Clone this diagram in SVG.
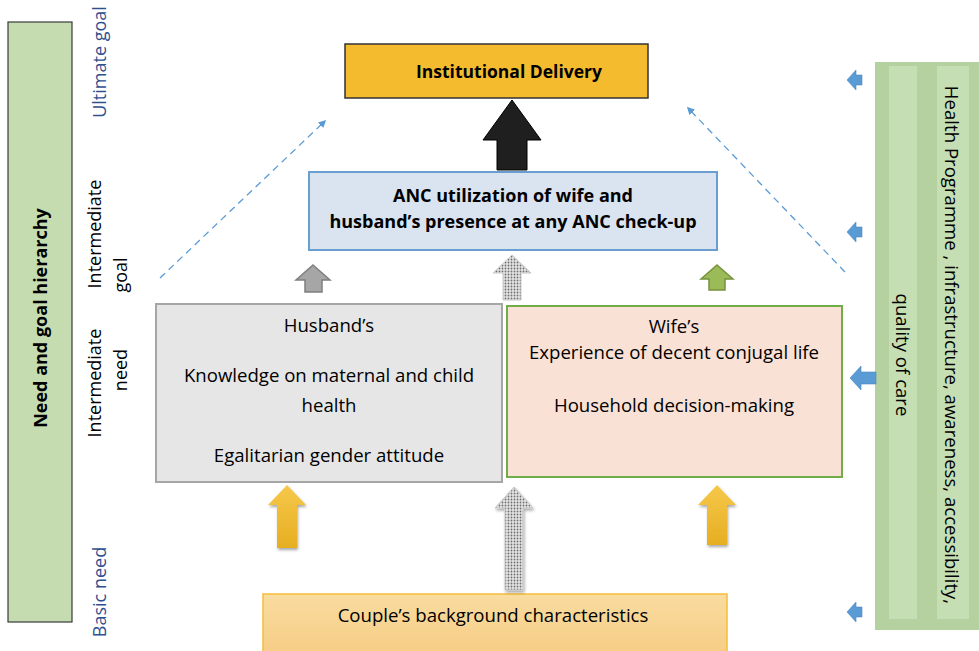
<svg xmlns="http://www.w3.org/2000/svg" width="979" height="651" viewBox="0 0 979 651">
  <defs>
    <style>
      text { font-family: "Open Sans", "Liberation Sans", Arial, sans-serif; fill: #000; }
      .lbl { font-size: 18.6px; }
      .lvl { font-size: 18px; }
      .blue { fill: #2F4F8F; }
      .bold { font-weight: bold; }
      .dash { stroke: #5B9BD5; stroke-width: 1.3; stroke-dasharray: 7 5; fill: none; }
      .side { fill: #5B9BD5; stroke: #4A86C0; stroke-width: 0.6; }
    </style>
    <pattern id="dots" width="3" height="3" patternUnits="userSpaceOnUse">
      <rect width="3" height="3" fill="#E4E4E4"/>
      <circle cx="1.5" cy="1.5" r="0.9" fill="#6E6E6E"/>
    </pattern>
    <linearGradient id="gold" x1="0" y1="0" x2="0" y2="1">
      <stop offset="0" stop-color="#F6C84A"/>
      <stop offset="1" stop-color="#E6AE22"/>
    </linearGradient>
    <linearGradient id="base" x1="0" y1="0" x2="0" y2="1">
      <stop offset="0" stop-color="#F9DCA0"/>
      <stop offset="1" stop-color="#F6CD85"/>
    </linearGradient>
    <filter id="shadow" x="-30%" y="-20%" width="160%" height="150%">
      <feGaussianBlur in="SourceAlpha" stdDeviation="1.5"/>
      <feOffset dx="1" dy="2" result="b"/>
      <feComponentTransfer><feFuncA type="linear" slope="0.35"/></feComponentTransfer>
      <feMerge><feMergeNode/><feMergeNode in="SourceGraphic"/></feMerge>
    </filter>
    <marker id="tip" viewBox="0 0 10 10" refX="8" refY="5" markerWidth="6" markerHeight="6" orient="auto">
      <path d="M0,0 L10,5 L0,10 z" fill="#5B9BD5"/>
    </marker>
  </defs>

  <!-- hierarchy bar on the left -->
  <g id="hierarchy">
    <rect x="8" y="22" width="64" height="600" fill="#C5DCB1" stroke="#3A3A3A" stroke-width="1.2"/>
    <text class="bold" font-size="18" text-anchor="middle" dominant-baseline="central" transform="translate(40,318) rotate(-90)">Need and goal hierarchy</text>
  </g>

  <!-- level labels -->
  <g id="levels">
    <text class="lvl blue" text-anchor="middle" dominant-baseline="central" transform="translate(99,62) rotate(-90)">Ultimate goal</text>
    <text class="lvl" text-anchor="middle" dominant-baseline="central" transform="translate(94,234) rotate(-90)">Intermediate</text>
    <text class="lvl" text-anchor="middle" dominant-baseline="central" transform="translate(120,275) rotate(-90)">goal</text>
    <text class="lvl" text-anchor="middle" dominant-baseline="central" transform="translate(94,383) rotate(-90)">Intermediate</text>
    <text class="lvl" text-anchor="middle" dominant-baseline="central" transform="translate(120,370) rotate(-90)">need</text>
    <text class="lvl blue" text-anchor="middle" dominant-baseline="central" transform="translate(99,592) rotate(-90)">Basic need</text>
  </g>

  <!-- ultimate goal -->
  <g id="delivery">
    <rect x="345" y="44" width="303" height="54" fill="#F4BB2E" stroke="#333" stroke-width="1.5"/>
    <text class="bold" font-size="17.5" x="509" y="78" text-anchor="middle">Institutional Delivery</text>
  </g>

  <!-- intermediate goal -->
  <g id="anc">
    <rect x="309" y="172" width="408" height="78" fill="#DAE3F0" stroke="#6A9ED0" stroke-width="2"/>
    <text class="bold" font-size="18" x="513" y="202" text-anchor="middle">ANC utilization of wife and</text>
    <text class="bold" font-size="18" x="513" y="228" text-anchor="middle">husband’s presence at any ANC check-up</text>
  </g>

  <!-- intermediate needs -->
  <g id="husband">
    <rect x="156" y="304" width="346" height="178" fill="#E6E6E6" stroke="#A6A6A6" stroke-width="2"/>
    <text class="lbl" x="329" y="332" text-anchor="middle">Husband’s</text>
    <text class="lbl" x="329" y="382" text-anchor="middle">Knowledge on maternal and child</text>
    <text class="lbl" x="329" y="412" text-anchor="middle">health</text>
    <text class="lbl" x="329" y="462" text-anchor="middle">Egalitarian gender attitude</text>
  </g>
  <g id="wife">
    <rect x="507" y="306" width="335" height="171" fill="#F9E1D5" stroke="#70AD47" stroke-width="2"/>
    <text class="lbl" x="674" y="333" text-anchor="middle">Wife’s</text>
    <text class="lbl" x="674" y="359" text-anchor="middle">Experience of decent conjugal life</text>
    <text class="lbl" x="674" y="412" text-anchor="middle">Household decision-making</text>
  </g>

  <!-- basic need -->
  <g id="background">
    <rect x="263" y="594" width="464" height="60" fill="url(#base)" stroke="#F5BD3B" stroke-width="1.5"/>
    <text class="lbl" x="493" y="622" text-anchor="middle">Couple’s background characteristics</text>
  </g>

  <!-- health system panel on the right -->
  <g id="health">
    <rect x="875" y="62" width="110" height="568" fill="#B5D1A0"/>
    <rect x="889" y="66" width="28" height="553" fill="#C5DEB3"/>
    <rect x="937" y="66" width="32" height="553" fill="#C5DEB3"/>
    <text class="lbl" text-anchor="middle" dominant-baseline="central" transform="translate(903,355) rotate(90)">quality of care</text>
    <text class="lbl" text-anchor="middle" dominant-baseline="central" transform="translate(952,345) rotate(90)">Health Programme , infrastructure, awareness, accessibility,</text>
  </g>

  <!-- connectors -->
  <g id="connectors">
    <!-- main arrow to the ultimate goal -->
    <polygon points="512,100 541,140 527,140 527,170 497,170 497,140 483,140" fill="#1F1F1F" stroke="#000" stroke-width="1"/>
    <!-- needs to intermediate goal -->
    <polygon points="313,265 330,280 322,280 322,292 305,292 305,280 296,280" fill="#A6A6A6" stroke="#7F7F7F" stroke-width="1.5"/>
    <polygon points="512,255 531,273 521,273 521,300 503,300 503,273 493,273" fill="url(#dots)" stroke="#C8C8C8" stroke-width="1"/>
    <polygon points="717,265 733,279 725,279 725,290 709,290 709,279 701,279" fill="#9BBB59" stroke="#77933C" stroke-width="1.5"/>
    <!-- background to needs -->
    <polygon points="287,485 306,505 297,505 297,548 277,548 277,505 268,505" fill="url(#gold)" filter="url(#shadow)"/>
    <polygon points="717,485 736,505 727,505 727,545 707,545 707,505 698,505" fill="url(#gold)" filter="url(#shadow)"/>
    <polygon points="514,487 533,508 523,508 523,590 505,590 505,508 495,508" fill="url(#dots)" stroke="#C8C8C8" stroke-width="1" filter="url(#shadow)"/>
    <!-- dashed diagonal links -->
    <line class="dash" x1="160" y1="278" x2="325" y2="121" marker-end="url(#tip)"/>
    <line class="dash" x1="845" y1="272" x2="688" y2="108" marker-end="url(#tip)"/>
    <!-- health system influences -->
    <polygon class="side" points="847,80 856,70 856,75 862,75 862,85 856,85 856,90"/>
    <polygon class="side" points="847,232 856,222 856,227 862,227 862,237 856,237 856,242"/>
    <polygon class="side" points="850,378 861,366 861,372 876,372 876,384 861,384 861,390"/>
    <polygon class="side" points="847,612 856,602 856,607 862,607 862,617 856,617 856,622"/>
  </g>
</svg>
